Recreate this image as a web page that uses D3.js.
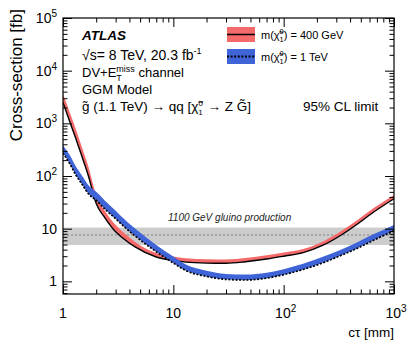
<!DOCTYPE html>
<html>
<head>
<meta charset="utf-8">
<script src="https://cdn.jsdelivr.net/npm/d3@7"></script>
<style>
  body { margin: 0; background: #fff; }
  text { font-family: "Liberation Sans", Arial, Helvetica, sans-serif; fill: #000; }
</style>
</head>
<body>
<svg id="chart" width="415" height="351"></svg>
<script>
// c*tau grid [mm] and the limits [fb]
const ctau = [1, 1.15, 1.3, 1.5, 1.7, 2, 2.4, 3, 3.5, 4.5, 7, 10, 13, 20, 30, 45, 70, 100, 150, 230, 330, 460, 650, 1000]

// m(chi) = 400 GeV: solid line and top of the red band
const lim400 = [2500, 1080, 530, 220, 100, 30, 16, 8.7, 6.6, 4.5, 2.9, 2.5, 2.32, 2.22, 2.2, 2.35, 2.65, 3.0, 3.5, 4.9, 7.5, 12, 20.5, 37]
const lim400Up = [3600, 1620, 800, 330, 150, 43.5, 21.6, 11.7, 8.6, 5.6, 3.45, 2.95, 2.74, 2.62, 2.6, 2.77, 3.12, 3.52, 4.12, 5.8, 8.9, 14.3, 24.4, 43.7]

// m(chi) = 1 TeV: dotted line and top of the blue band
const lim1000 = [272, 172, 107, 68, 46, 34.5, 23.5, 15.5, 11.4, 7.3, 3.65, 2.23, 1.6, 1.24, 1.09, 1.06, 1.15, 1.34, 1.68, 2.27, 3.1, 4.2, 6.0, 9.1]
const lim1000Up = [380, 250, 155, 99, 67, 50, 34, 22, 16, 10.1, 4.9, 2.95, 2.08, 1.59, 1.38, 1.35, 1.46, 1.70, 2.15, 2.95, 4.0, 5.45, 7.8, 11.8]

// 1100 GeV gluino cross-section: down, nominal, up
const gluinoXsec = [4.9, 7.6, 10.5]

const xTicks = [1, 10, 100, 1000]
const xTickLabels = [["1", ""], ["10", ""], ["10", "2"], ["10", "3"]]
const yTicks = [1, 10, 100, 1000, 10000, 100000]
const yTickLabels = [["1", ""], ["10", ""], ["10", "2"], ["10", "3"], ["10", "4"], ["10", "5"]]

const box = {left: 63, right: 394, top: 18, bottom: 294}

const x = d3.scaleLog().domain([1, 1000]).range([box.left, box.right])
const y = d3.scaleLog().domain([0.575, 1e5]).range([box.bottom, box.top])

const svg = d3.select("#chart")

svg.append("clipPath").attr("id", "plot")
  .append("rect")
  .attr("x", box.left).attr("y", box.top)
  .attr("width", box.right - box.left).attr("height", box.bottom - box.top)

const plot = svg.append("g").attr("clip-path", "url(#plot)")

// gluino production band
plot.append("rect")
  .attr("x", box.left).attr("width", box.right - box.left)
  .attr("y", y(gluinoXsec[2]))
  .attr("height", y(gluinoXsec[0]) - y(gluinoXsec[2]))
  .attr("fill", "#cccccc")
plot.append("line")
  .attr("x1", box.left).attr("x2", box.right)
  .attr("y1", y(gluinoXsec[1])).attr("y2", y(gluinoXsec[1]))
  .attr("stroke", "#999").attr("stroke-width", 1.6)
  .attr("stroke-dasharray", "2,2")

svg.append("text")
  .attr("x", 168).attr("y", 221)
  .attr("font-size", 10).attr("font-style", "italic")
  .style("fill", "#222")
  .text("1100 GeV gluino production")

const band = (lo, hi) => d3.area()
  .x((d, i) => x(ctau[i]))
  .y0((d, i) => y(lo[i]))
  .y1((d, i) => y(hi[i]))
  .curve(d3.curveMonotoneX)(ctau)

const line = vals => d3.line()
  .x((d, i) => x(ctau[i]))
  .y((d, i) => y(vals[i]))
  .curve(d3.curveMonotoneX)(ctau)

plot.append("path").attr("d", band(lim400, lim400Up)).attr("fill", "#f46a6a")
plot.append("path").attr("d", line(lim400))
  .attr("fill", "none").attr("stroke", "#000").attr("stroke-width", 1.4)

plot.append("path").attr("d", band(lim1000, lim1000Up)).attr("fill", "#3e64d8")
plot.append("path").attr("d", line(lim1000))
  .attr("fill", "none").attr("stroke", "#000").attr("stroke-width", 1.7)
  .attr("stroke-dasharray", "2,1.6")

// frame and ticks on all four sides, pointing in
const minorX = [1, 10, 100].flatMap(d => d3.range(2, 10).map(k => d * k))
const minorY = [0.6, 0.7, 0.8, 0.9].concat([1, 10, 100, 1000, 10000].flatMap(d => d3.range(2, 10).map(k => d * k)))

const axes = [
  [d3.axisBottom(x), `translate(0,${box.bottom})`, xTicks, minorX],
  [d3.axisTop(x), `translate(0,${box.top})`, xTicks, minorX],
  [d3.axisLeft(y), `translate(${box.left},0)`, yTicks, minorY],
  [d3.axisRight(y), `translate(${box.right},0)`, yTicks, minorY]
]
axes.forEach(([ax, tr, major, minor]) => {
  svg.append("g").attr("transform", tr)
    .call(ax.tickValues(major).tickSize(-9).tickFormat(""))
  svg.append("g").attr("transform", tr)
    .call(ax.tickValues(minor).tickSize(-4.5).tickFormat(""))
})
svg.selectAll(".domain").remove()
svg.selectAll(".tick line").attr("stroke", "#000").attr("stroke-width", 1)

svg.append("rect")
  .attr("x", box.left).attr("y", box.top)
  .attr("width", box.right - box.left).attr("height", box.bottom - box.top)
  .attr("fill", "none").attr("stroke", "#000").attr("stroke-width", 1.2)

// tick labels with exponents
const powerLabel = (sel, [base, exp]) => {
  sel.append("tspan").text(base)
  if (exp) sel.append("tspan").attr("dy", -6).attr("font-size", 10).text(exp)
}

xTicks.forEach((v, i) => {
  svg.append("text")
    .attr("x", x(v) + (xTickLabels[i][1] ? 2 : 0)).attr("y", 318)
    .attr("font-size", 14).attr("text-anchor", "middle")
    .call(powerLabel, xTickLabels[i])
})
yTicks.forEach((v, i) => {
  svg.append("text")
    .attr("x", 57).attr("y", y(v) + 5)
    .attr("font-size", 14).attr("text-anchor", "end")
    .call(powerLabel, yTickLabels[i])
})

svg.append("text")
  .attr("transform", "translate(22,9) rotate(-90)")
  .attr("text-anchor", "end").attr("font-size", 17)
  .text("Cross-section [fb]")

svg.append("text")
  .attr("x", 394).attr("y", 337)
  .attr("text-anchor", "end").attr("font-size", 13.5)
  .text("cτ [mm]")

// label block
const rich = (sel, parts) => parts.forEach(p => {
  const t = sel.append("tspan").text(p.t)
  if (p.dx) t.attr("dx", p.dx)
  if (p.dy) t.attr("dy", p.dy)
  if (p.size) t.attr("font-size", p.size)
})

svg.append("text")
  .attr("x", 82).attr("y", 40)
  .attr("font-size", 13.5).attr("font-weight", "bold").attr("font-style", "italic")
  .text("ATLAS")

svg.append("text").attr("x", 82).attr("y", 60).attr("font-size", 14)
  .call(rich, [{t: "√s= 8 TeV, 20.3 fb"}, {t: "-1", dy: -6, size: 9}])

svg.append("text").attr("x", 82).attr("y", 77).attr("font-size", 13)
  .call(rich, [
    {t: "DV+E"},
    {t: "miss", dy: -5, size: 9},
    {t: "T", dx: -18.5, dy: 9, size: 9},
    {t: " channel", dx: 13, dy: -4}
  ])

svg.append("text").attr("x", 82).attr("y", 94).attr("font-size", 13)
  .text("GGM Model")

svg.append("text").attr("x", 82).attr("y", 111).attr("font-size", 13.5)
  .call(rich, [
    {t: "g\u0303 (1.1 TeV) \u2192 qq [\u03c7\u0303"},
    {t: "0", dy: -5, size: 8},
    {t: "1", dx: -4.5, dy: 9, size: 8},
    {t: " \u2192 Z G\u0303]", dx: 1, dy: -4}
  ])

svg.append("text").attr("x", 303).attr("y", 111).attr("font-size", 13.5)
  .text("95% CL limit")

// legend
const legend = [
  {fill: "#f46a6a", dash: null, label: "400 GeV", y: 27},
  {fill: "#3e64d8", dash: "2,1.6", label: "1 TeV", y: 49}
]
legend.forEach(d => {
  svg.append("rect").attr("x", 227).attr("y", d.y).attr("width", 28).attr("height", 15)
    .attr("fill", d.fill)
  svg.append("line").attr("x1", 227).attr("x2", 255)
    .attr("y1", d.y + 7.5).attr("y2", d.y + 7.5)
    .attr("stroke", "#000").attr("stroke-width", d.dash ? 1.8 : 1.5)
    .attr("stroke-dasharray", d.dash)
  svg.append("text").attr("x", 261).attr("y", d.y + 12).attr("font-size", 11)
    .call(rich, [
      {t: "m(\u03c7\u0303"},
      {t: "0", dy: -5, size: 7.5},
      {t: "1", dx: -4.2, dy: 8, size: 7.5},
      {t: ") = " + d.label, dy: -3}
    ])
})
</script>
</body>
</html>
